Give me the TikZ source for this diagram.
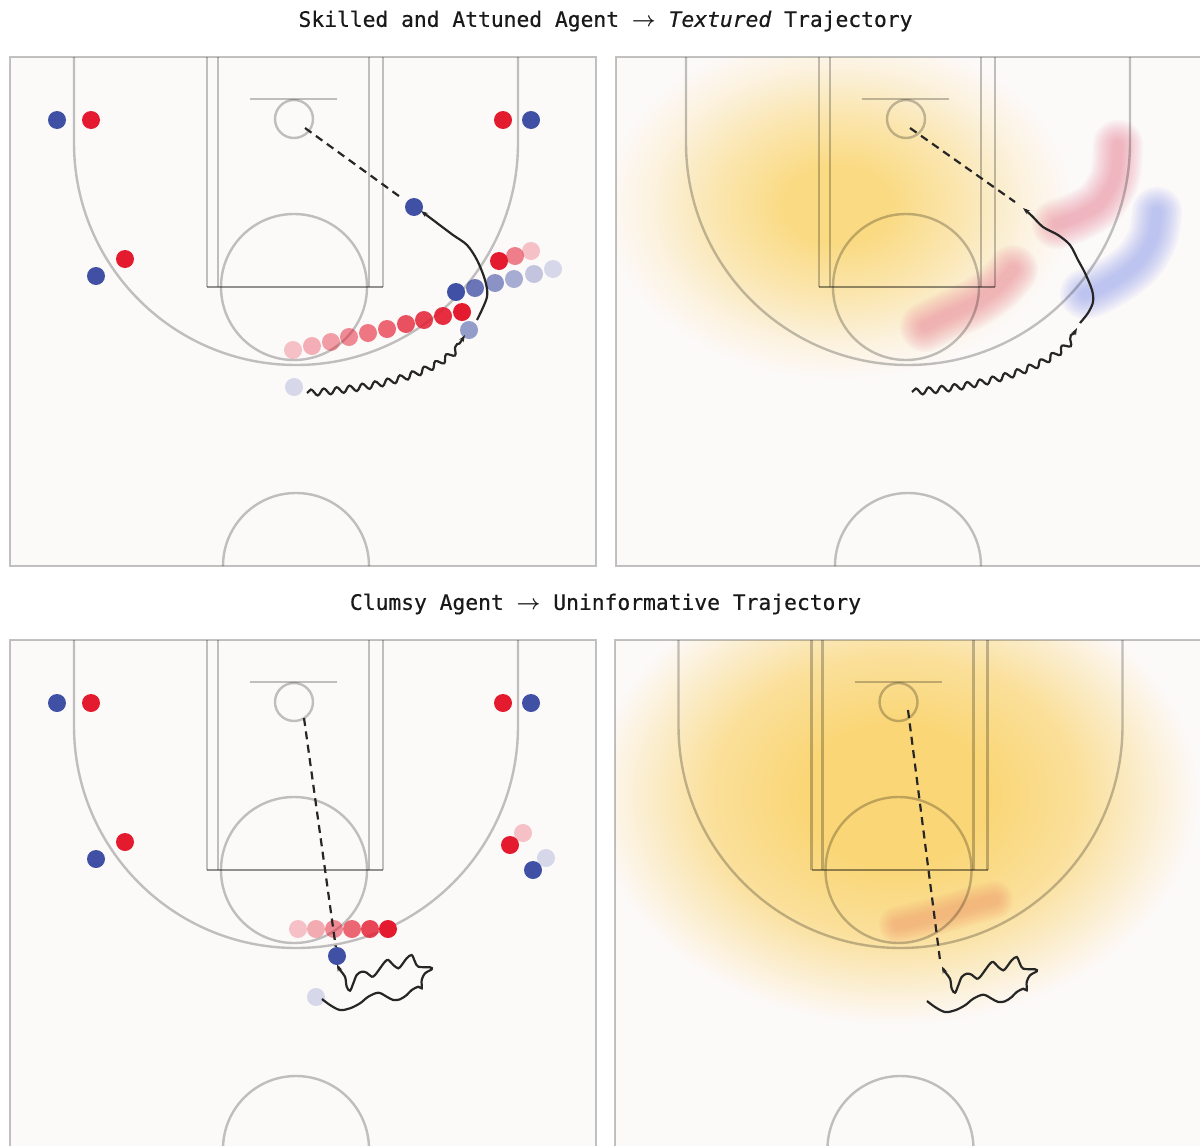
\documentclass[tikz,border=0pt]{standalone}
\usepackage{fontspec}
\setmonofont{DejaVu Sans Mono}[FakeBold=0.5]
\usetikzlibrary{arrows.meta,decorations.pathmorphing}
\definecolor{courtbg}{RGB}{252,249,249}
\definecolor{pred}{RGB}{228,26,46}
\definecolor{pblue}{RGB}{64,80,165}
\definecolor{heaty}{RGB}{250,214,118}
\definecolor{heaty2}{RGB}{250,218,130}
\definecolor{heatr}{RGB}{232,120,140}
\definecolor{heatb}{RGB}{140,155,240}
\definecolor{heato}{RGB}{240,140,100}
\pgfdeclareradialshading{heatA}{\pgfpoint{0bp}{0bp}}{color(0bp)=(heaty2); color(5bp)=(heaty2); color(12bp)=(heaty2!62!courtbg); color(18bp)=(heaty2!24!courtbg); color(23bp)=(courtbg); color(50bp)=(courtbg)}
\pgfdeclareradialshading{heatB}{\pgfpoint{0bp}{0bp}}{color(0bp)=(heaty); color(7bp)=(heaty); color(14bp)=(heaty!72!courtbg); color(19.5bp)=(heaty!28!courtbg); color(23bp)=(courtbg); color(50bp)=(courtbg)}
\newcommand{\blurstroke}[3]{\foreach \w in {50,46,42,38,34,30,26,22,18,14,10}{\draw[draw=#1, line width=\w pt, draw opacity=#2, line cap=round, line join=round] #3;}}
\newcommand{\courtlines}{%
  \draw[cline] (74,57) -- (74,143) arc[start angle=180,end angle=0,radius=222] -- (518,57);
  \draw[cline] (207,57) -- (207,287);
  \draw[cline] (218,57) -- (218,287);
  \draw[cline] (369,57) -- (369,287);
  \draw[cline] (383,57) -- (383,287);
  \draw[cline, draw opacity=0.42] (207,287) -- (383,287);
  \draw[cline] (294,287) circle[radius=73];
  \draw[cline] (250,99) -- (337,99);
  \draw[cline] (294,119) circle[radius=19];
  \draw[cline] (223,566) arc[start angle=180,end angle=360,radius=73];
}
\tikzset{
  cline/.style={draw=black, draw opacity=0.24, line width=2.4pt},
  dotb/.style={circle, inner sep=0pt, minimum size=18pt, fill=pblue},
  dotr/.style={circle, inner sep=0pt, minimum size=18pt, fill=pred},
  dashline/.style={draw=black!85, line width=2.2pt, dash pattern=on 8pt off 5.5pt},
  moveline/.style={draw=black!85, line width=2.2pt, -{Stealth[length=7pt,width=5pt]}},
  wavy/.style={moveline, decorate, decoration={snake, amplitude=3.2pt, segment length=13pt, post length=6pt}},
  title/.style={font=\ttfamily\fontsize{21.3}{26}\selectfont, text=black!90, inner sep=0pt},
}
\begin{document}
\begin{tikzpicture}[x=1pt,y=-1pt]
\useasboundingbox (0,0) rectangle (1200,1146);
\clip (0,0) rectangle (1200,1146);
\fill[white] (0,0) rectangle (1200,1146);

% titles
\node[title] (t1) at (605.5,21) {Skilled and Attuned Agent {\boldmath$\rightarrow$} \textit{Textured} Trajectory};
\node[title] (t2) at (605.5,604) {Clumsy Agent {\boldmath$\rightarrow$} Uninformative Trajectory};

% court backgrounds
\fill[courtbg] (10,57) rectangle (596,566);
\fill[courtbg] (616,57) rectangle (1208,566);
\fill[courtbg] (10,640) rectangle (596,1150);
\fill[courtbg] (615,640) rectangle (1208,1150);

% heat maps top-right
\begin{scope}
  \clip (616,57) rectangle (1208,566);
  \shade[shading=heatA] (838,205) ellipse[x radius=255, y radius=190];
  \blurstroke{heatr}{0.06}{plot[smooth] coordinates {(1118,145) (1115,177) (1100,203) (1077,217) (1057,224)}}
  \blurstroke{heatb}{0.065}{plot[smooth] coordinates {(1157,212) (1153,237) (1140,260) (1120,277) (1097,290) (1085,294)}}
  \blurstroke{heatr}{0.06}{plot[smooth] coordinates {(1013,270) (998,287) (975,303) (945,317) (925,327)}}
\end{scope}
% heat maps bottom-right
\begin{scope}
  \clip (615,640) rectangle (1208,1150);
  \shade[shading=heatB] (895,795) ellipse[x radius=330, y radius=250];
  \foreach \w in {38,34,30,26,22,18,14,10}{\draw[draw=heato, line width=\w pt, draw opacity=0.065, line cap=round, line join=round] plot[smooth] coordinates {(898,925) (933,917) (967,907) (994,900)};}
\end{scope}

% court lines
\draw[cline] (10,57) rectangle (596,566);
\draw[cline] (616,57) rectangle (1208,566);
\draw[cline] (10,640) rectangle (596,1150);
\draw[cline] (615,640) rectangle (1208,1150);
\courtlines
\begin{scope}[shift={(612,0)}]\courtlines\end{scope}
\begin{scope}[shift={(0,583)}]\courtlines\end{scope}
\begin{scope}[shift={(604.5,583)}]\courtlines\end{scope}

% ---------- top-left players ----------
\node[dotb] (tlb1) at (57,120) {};
\node[dotr] (tlr1) at (91,120) {};
\node[dotr] (tlr2) at (503,120) {};
\node[dotb] (tlb2) at (531,120) {};
\node[dotr] (tlr3) at (125,259) {};
\node[dotb] (tlb3) at (96,276) {};
\foreach \i/\x/\y/\o in {1/293/350/0.25, 2/312/346/0.33, 3/331/342/0.41, 4/349/337/0.5, 5/368/333/0.58, 6/387/329/0.66, 7/406/324/0.75, 8/424/320/0.83, 9/443/316/0.91, 10/462/312/1}
  \node[dotr, fill opacity=\o] (tlrt\i) at (\x,\y) {};
\foreach \i/\x/\y/\o in {1/553/269/0.2, 2/534/274/0.3, 3/514/279/0.45, 4/495/283/0.6, 5/475/288/0.78, 6/456/292/1}
  \node[dotb, fill opacity=\o] (tlbt\i) at (\x,\y) {};
\foreach \i/\x/\y/\o in {1/531/251/0.25, 2/515/256/0.55, 3/499/261/1}
  \node[dotr, fill opacity=\o] (tlrs\i) at (\x,\y) {};
\node[dotb, fill opacity=0.2] (tlstart) at (294,387) {};
\node[dotb, fill opacity=0.55] (tlmid) at (469,330) {};
\node[dotb] (tlball) at (414,207) {};
\coordinate (tlshot) at (305,128);
\coordinate (tlw0) at (307,393);
\coordinate (tlw1) at (465,335);
\coordinate (tlc0) at (477,320);
\draw[dashline, shorten >=4pt] (tlshot) -- (tlball);
\draw[wavy] (tlw0) .. controls (380,388) and (445,372) .. (tlw1);
\draw[moveline] plot[smooth] coordinates {(tlc0) (487,297) (485,280) (477,260) (467,245) (453,235) (437,223) (421,211)};

% ---------- top-right arrows ----------
\coordinate (trshot) at (910,128);
\coordinate (trdash) at (1015,202);
\coordinate (trw0) at (912,392);
\coordinate (trw1) at (1077,328);
\coordinate (trc0) at (1080,323);
\draw[dashline] (trshot) -- (trdash);
\draw[wavy] (trw0) .. controls (990,386) and (1060,365) .. (trw1);
\draw[moveline] plot[smooth] coordinates {(trc0) (1088,313) (1093,302) (1092,290) (1085,273) (1078,260) (1070,245) (1058,235) (1043,227) (1032,216) (1023,208)};

% ---------- bottom-left players ----------
\node[dotb] (blb1) at (57,703) {};
\node[dotr] (blr1) at (91,703) {};
\node[dotr] (blr2) at (503,703) {};
\node[dotb] (blb2) at (531,703) {};
\node[dotr] (blr3) at (125,842) {};
\node[dotb] (blb3) at (96,859) {};
\node[dotr, fill opacity=0.25] (blr4a) at (523,833) {};
\node[dotr] (blr4) at (510,845) {};
\node[dotb, fill opacity=0.2] (blb4a) at (546,858) {};
\node[dotb] (blb4) at (533,870) {};
\foreach \i/\x/\o in {1/298/0.25, 2/316/0.35, 3/334/0.5, 4/352/0.65, 5/370/0.8, 6/388/1}
  \node[dotr, fill opacity=\o] (blrt\i) at (\x,929) {};
\node[dotb, fill opacity=0.2] (blstart) at (316,997) {};
\node[dotb] (blball) at (337,956) {};
\coordinate (blshot) at (304,718);
\coordinate (blq0) at (322,999);
\coordinate (blq1) at (337,964.5);
\draw[dashline] (blshot) -- (blball);
\draw[moveline] plot[smooth, tension=0.55] coordinates {(blq0) (330,1005) (340,1010) (350,1008.3) (360,1003.3) (368.3,996.7) (378.3,992.7) (386.7,996.7) (393.3,1000) (400,999.3) (406.7,995) (411.7,990) (418.3,986.7) (421.7,988.3) (421.7,980) (425,973.3) (431.7,969.3) (430,967.3) (418.3,966.7) (415,961.7) (411.7,955) (406.7,958.3) (401.7,965) (398.3,968.3) (393.3,965) (388.3,960) (385,961.7) (380,968.3) (375,975) (371.7,976.7) (366.7,972.7) (361.7,971.7) (356.7,975) (353.3,983.3) (350,990.7) (346.7,986.7) (345,976.7) (340,970) (blq1)};

% ---------- bottom-right arrows ----------
\coordinate (brshot) at (908,710);
\coordinate (brdash) at (940,960);
\draw[dashline] (brshot) -- (brdash);
\begin{scope}[shift={(605,2)}]
\coordinate (brq0) at (322,999);
\coordinate (brq1) at (337,964.5);
\draw[moveline] plot[smooth, tension=0.55] coordinates {(brq0) (330,1005) (340,1010) (350,1008.3) (360,1003.3) (368.3,996.7) (378.3,992.7) (386.7,996.7) (393.3,1000) (400,999.3) (406.7,995) (411.7,990) (418.3,986.7) (421.7,988.3) (421.7,980) (425,973.3) (431.7,969.3) (430,967.3) (418.3,966.7) (415,961.7) (411.7,955) (406.7,958.3) (401.7,965) (398.3,968.3) (393.3,965) (388.3,960) (385,961.7) (380,968.3) (375,975) (371.7,976.7) (366.7,972.7) (361.7,971.7) (356.7,975) (353.3,983.3) (350,990.7) (346.7,986.7) (345,976.7) (340,970) (brq1)};
\end{scope}
\end{tikzpicture}
\end{document}
